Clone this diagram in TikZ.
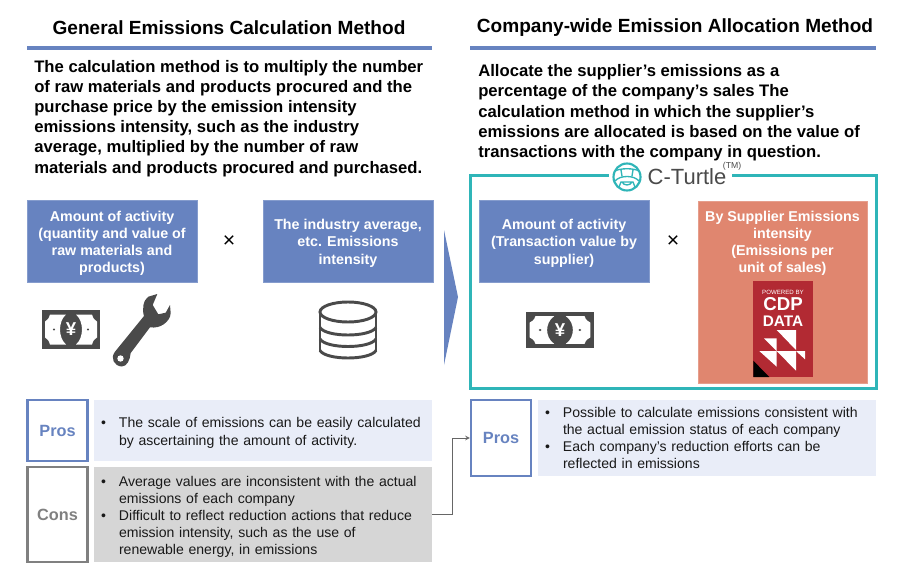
\documentclass[tikz,border=0pt]{standalone}
\usepackage{fontspec}
\usepackage{tikz}
\setmainfont{Liberation Sans}
\definecolor{boxblue}{HTML}{6783C0}
\definecolor{paleblue}{HTML}{E9EDF8}
\definecolor{palegrey}{HTML}{D6D6D6}
\definecolor{boxorange}{HTML}{E0866F}
\definecolor{cdpred}{HTML}{B22A33}
\definecolor{frameteal}{HTML}{2FB5B8}
\definecolor{icongrey}{HTML}{4A4A4A}
\newcommand{\bul}{\makebox[13.5pt][l]{\textbullet}}
\newcommand{\bulgap}{\hspace*{13.5pt}}
\newcommand{\lift}{\rule{0pt}{11.2pt}}
\tikzset{
	size/.style 2 args={minimum width=#1*0.75pt, minimum height=#2*0.75pt, inner sep=0pt},
	titletext/.style={font=\bfseries\fontsize{14.3}{16}\selectfont},
	bodytext/.style={font=\bfseries\fontsize{12.5}{15.1}\selectfont, align=left, anchor=north west, inner sep=0pt},
	bluebox/.style={fill=boxblue, draw=boxblue!80!white, line width=0.4pt, text=white, align=center, font=\bfseries\fontsize{10.7}{12.8}\selectfont},
	orangebox/.style={fill=boxorange, draw=boxorange!80!white, line width=0.4pt},
	prosbox/.style={draw=boxblue, fill=white, line width=1.6pt, text=boxblue, font=\bfseries\fontsize{12.2}{14}\selectfont},
	consbox/.style={prosbox, draw=gray, text=gray},
	prostext/.style={fill=paleblue, align=left, text=black!90, text width=243pt, font=\fontsize{10.55}{12.8}\selectfont},
	constext/.style={prostext, fill=palegrey},
	timessign/.style={font=\fontsize{16}{18}\selectfont},
	pics/money/.style={code={
		\fill[icongrey] (-29,-19.5) rectangle (29,19.5);
		\fill[white] (-26,-8) .. controls (-24,-9) and (-22,-11) .. (-21,-15) -- (-5,-15) .. controls (-13,-8) and (-13,8) .. (-5,15) -- (-21,15) .. controls (-22,11) and (-24,9) .. (-26,8) -- cycle;
		\fill[white] (26,-8) .. controls (24,-9) and (22,-11) .. (21,-15) -- (5,-15) .. controls (13,-8) and (13,8) .. (5,15) -- (21,15) .. controls (22,11) and (24,9) .. (26,8) -- cycle;
		\fill[icongrey] (-17,0) circle (1.2) (17,0) circle (1.2);
		\node[text=white, inner sep=0pt, font=\bfseries\fontsize{14}{14}\selectfont] at (0,0) {¥};
	}}
}
\begin{document}
\begin{tikzpicture}[x=0.75pt, y=-0.75pt]
	\useasboundingbox (0,0) rectangle (900,564);
	\fill[white] (0,0) rectangle (900,564);

	% headings
	\node[titletext] (lefttitle) at (229,28) {General Emissions Calculation Method};
	\node[titletext] (righttitle) at (675,28) {Company-wide Emission Allocation Method};
	\fill[boxblue] (27,46) rectangle (432,49.5);
	\fill[boxblue] (470,46) rectangle (876,49.5);
	\node[bodytext] (lefttext) at (34,60) {The calculation method is to multiply the number\\of raw materials and products procured and the\\purchase price by the emission intensity\\emissions intensity, such as the industry\\average, multiplied by the number of raw\\materials and products procured and purchased.};
	\node[bodytext] (righttext) at (478,64.5) {Allocate the supplier's emissions as a\\percentage of the company's sales The\\calculation method in which the supplier's\\emissions are allocated is based on the value of\\transactions with the company in question.};

	% left formula
	\node[bluebox, size={170}{82}] (activity) at (112,241) {\lift Amount of activity\\(quantity and value of\\raw materials and\\products)};
	\node[bluebox, size={170}{82}] (average) at (348,241) {\lift The industry average,\\etc. Emissions\\intensity};
	\node[timessign] (lefttimes) at (229,242) {×};
	\fill[boxblue] (444,230) -- (458,297) -- (444,365) -- cycle;

	\pic at (71,329.5) {money};
	% spanner
	\fill[icongrey] (157.3,294) -- (148.3,296.7) .. controls (143,300) and (142,310) .. (144,316) -- (115,351.7) .. controls (110,358) and (114,366) .. (121.7,366.5) .. controls (127,366.5) and (130,360) .. (130.7,353) -- (150,327.3) .. controls (160,329) and (170,322) .. (170.7,313.3) -- (170,305) -- (165.7,312.7) -- (158.3,314.3) -- (152.7,305) -- cycle;
	\fill[white] (120.5,358.5) circle (3.2);

	% stacked disks
	\begin{scope}[draw=icongrey, line width=2.2pt]
		\draw (348,312) ellipse [x radius=28, y radius=10];
		\draw (320,312) -- (320,350.5) (376,312) -- (376,350.5);
		\foreach \ypos in {327.5,339,350.5}
			\draw (320,\ypos) .. controls (326,\ypos+10) and (370,\ypos+10) .. (376,\ypos);
	\end{scope}

	% right formula inside the frame
	\node[draw=frameteal, line width=1.6pt, size={406}{213}] (frame) at (673.5,282) {};
	\fill[white] (609,170) rectangle (732,181);
	\draw[frameteal, line width=1.6pt] (627,177) circle (13.5);
	\draw[frameteal, line width=1pt] (615,171) .. controls (620,168) and (634,168) .. (639,171) (615,181) .. controls (620,175) and (634,175) .. (639,181) (619,187) -- (621,182) -- (633,182) -- (635,187) (621,170) -- (622,176) (633,170) -- (632,176) (622,182) .. controls (624,186) and (630,186) .. (632,182);
	\node[text=icongrey, inner sep=0pt, font=\fontsize{16.5}{18}\selectfont] (logoname) at (687,177) {C-Turtle};
	\node[text=icongrey, inner sep=0pt, font=\fontsize{6.5}{7}\selectfont] (logomark) at (732,166) {(TM)};

	\node[bluebox, size={170}{82}] (transaction) at (564,241) {\lift Amount of activity\\(Transaction value by\\supplier)};
	\node[timessign] (righttimes) at (673,242) {×};
	\node[orangebox, size={169}{182}, anchor=north] (intensity) at (782.5,201) {};
	\node[text=white, align=center, inner sep=0pt, font=\bfseries\fontsize{10.7}{12.8}\selectfont, anchor=north] (intensitytext) at (782.5,210.5) {By Supplier Emissions\\intensity\\(Emissions per\\unit of sales)};
	\pic[xscale=1.17, yscale=0.92] at (560,330) {money};

	% data badge
	\fill[cdpred] (753,281) rectangle (813,377);
	\fill[black] (753.3,360.7) -- (753.3,377) -- (769.3,377) -- cycle;
	\fill[white] (776.7,330) -- (796,330) -- (796,350) -- cycle;
	\fill[white] (764,338.3) -- (776.7,338.3) -- (776.7,351) -- cycle;
	\fill[white] (759.3,351) -- (776.7,351) -- (776.7,366.7) -- cycle;
	\fill[white] (776.7,351) -- (796,351) -- (796,370.7) -- cycle;
	\fill[white] (796,351) -- (805,351) -- (805,359.3) -- cycle;
	\node[text=white, inner sep=0pt, font=\fontsize{4.6}{5}\selectfont] (badgetop) at (783,292) {POWERED BY};
	\node[text=white, inner sep=0pt, font=\bfseries\fontsize{14}{14}\selectfont] (badgecdp) at (783,304) {CDP};
	\node[text=white, inner sep=0pt, font=\bfseries\fontsize{11.5}{12}\selectfont] (badgedata) at (783,321) {DATA};

	% pros and cons
	\node[prosbox, size={60}{61}] (leftpros) at (57.5,430.5) {Pros};
	\node[prostext, size={338}{61}] (leftprostext) at (263,430.5) {\lift\bul The scale of emissions can be easily calculated\\\bulgap by ascertaining the amount of activity.};
	\node[consbox, size={60}{95}] (leftcons) at (57.5,514.5) {Cons};
	\node[constext, size={338}{95}] (leftconstext) at (263,514.5) {\lift\bul Average values are inconsistent with the actual\\\bulgap emissions of each company\\\bul Difficult to reflect reduction actions that reduce\\\bulgap emission intensity, such as the use of\\\bulgap renewable energy, in emissions};
	\node[prosbox, size={60}{76}] (rightpros) at (501,438) {Pros};
	\node[prostext, size={338}{76}] (rightprostext) at (707,438) {\bul Possible to calculate emissions consistent with\\\bulgap the actual emission status of each company\\\bul Each company's reduction efforts can be\\\bulgap reflected in emissions};
	\draw[-stealth, draw=black!60, line width=0.6pt] (leftconstext.east) -- ++(20,0) |- (rightpros.west);
\end{tikzpicture}
\end{document}
